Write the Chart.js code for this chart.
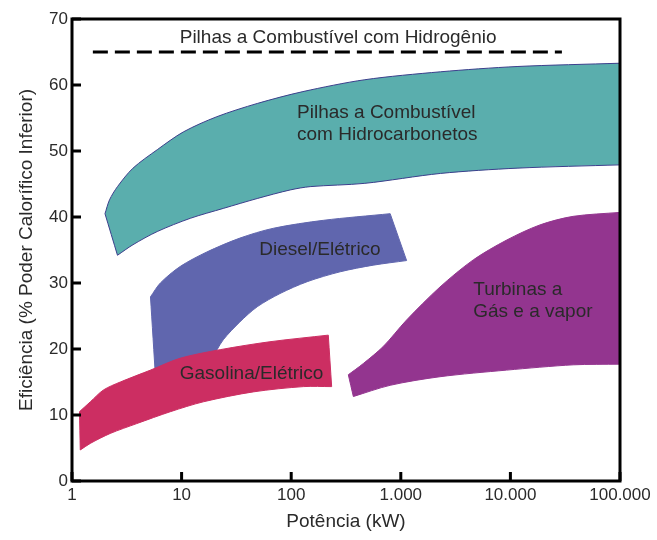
<!DOCTYPE html>
<html>
<head>
<meta charset="utf-8">
<script src="https://cdn.jsdelivr.net/npm/chart.js@4"></script>
<style>
  html, body { margin: 0; padding: 0; background: #fff; }
  canvas { display: block; }
</style>
</head>
<body>
<canvas id="chart" width="657" height="540"></canvas>
<script>
// upper and lower edges of each region (x = kW, y = %)
const hidroTopX = [2.0, 2.2, 2.6, 3.6, 6.0, 10.4, 21, 49, 128, 470, 2300, 11500, 100000];
const hidroTopY = [40.5, 42.6, 44.6, 47.4, 50.2, 52.9, 55.2, 57.2, 59.0, 60.8, 62.0, 62.8, 63.3];
const hidroBotX = [2.6, 3.6, 6.0, 12, 24, 49, 98, 149, 470, 2300, 11500, 100000];
const hidroBotY = [34.2, 35.8, 37.8, 39.8, 41.3, 42.8, 44.1, 44.6, 45.1, 46.6, 47.4, 47.9];

const dieselTopX = [5.2, 6.4, 9.7, 17, 34, 69, 197, 800];
const dieselTopY = [27.9, 30.0, 32.5, 34.7, 36.8, 38.3, 39.5, 40.5];
const dieselBotX = [5.8, 9.7, 18, 24, 34, 49, 79, 140, 280, 560, 1130];
const dieselBotY = [15.3, 15.3, 18.3, 21.4, 24.1, 26.4, 28.4, 30.2, 31.7, 32.7, 33.4];

const gasolinaTopX = [1.17, 1.47, 1.94, 2.76, 5.2, 9.7, 22.5, 64, 218];
const gasolinaTopY = [10.5, 12.0, 13.8, 15.0, 16.8, 18.6, 19.9, 21.1, 22.1];
const gasolinaBotX = [1.19, 1.47, 2.23, 3.9, 7.9, 15.8, 45, 129, 234];
const gasolinaBotY = [4.7, 5.7, 7.2, 8.7, 10.5, 12.0, 13.5, 14.3, 14.3];

const turbinaTopX = [332, 455, 693, 1130, 2280, 4580, 9230, 18600, 37400, 100000];
const turbinaTopY = [16.1, 17.8, 20.4, 24.4, 29.4, 33.5, 36.5, 38.8, 40.1, 40.7];
const turbinaBotX = [369, 800, 2280, 9230, 37400, 100000];
const turbinaBotY = [12.8, 14.5, 15.8, 16.8, 17.6, 17.7];

// hydrogen fuel cell line
const hidrogenioX = [1.55, 29500];
const hidrogenioY = [65, 65];

const xTickValues = [1, 10, 100, 1000, 10000, 100000];
const xTickLabels = ["1", "10", "100", "1.000", "10.000", "100.000"];

// text placed on the chart: [lines, x, y, align]
const regionLabels = [
  [["Pilhas a Combustível com Hidrogênio"], 268, 67.1, "center"],
  [["Pilhas a Combustível", "com Hidrocarbonetos"], 113, 55.8, "left"],
  [["Diesel/Elétrico"], 183, 35.0, "center"],
  [["Gasolina/Elétrico"], 43.5, 16.2, "center"],
  [["Turbinas a", "Gás e a vapor"], 4580, 29.0, "left"]
];

// closed outline: upper edge left->right, lower edge right->left.
// corner points are doubled so the spline keeps them sharp
function region(tx, ty, bx, by) {
  const top = tx.map((x, i) => ({ x: x, y: ty[i] }));
  const bot = bx.map((x, i) => ({ x: x, y: by[i] })).reverse();
  return [top[0]].concat(top, [top[top.length - 1]], [bot[0]], bot, [bot[bot.length - 1]], [top[0]]);
}

Chart.defaults.font.family = "'Liberation Sans', Arial, sans-serif";
Chart.defaults.color = "#2a2a2a";

// black frame, inward ticks and the region texts
const decor = {
  id: "decor",
  afterDraw(chart) {
    const ctx = chart.ctx;
    const a = chart.chartArea;
    const xs = chart.scales.x, ys = chart.scales.y;

    ctx.save();
    ctx.font = "19px 'Liberation Sans', Arial, sans-serif";
    ctx.fillStyle = "#2a2a2a";
    ctx.textBaseline = "middle";
    regionLabels.forEach(l => {
      ctx.textAlign = l[3];
      const px = xs.getPixelForValue(l[1]);
      const py = ys.getPixelForValue(l[2]);
      l[0].forEach((t, i) => ctx.fillText(t, px, py + i * 22));
    });

    ctx.strokeStyle = "#000";
    ctx.lineWidth = 3;
    ctx.strokeRect(a.left, a.top, a.right - a.left, a.bottom - a.top);
    ctx.beginPath();
    xs.ticks.forEach(t => {
      const p = xs.getPixelForValue(t.value);
      ctx.moveTo(p, a.bottom);
      ctx.lineTo(p, a.bottom - 9);
    });
    ys.ticks.forEach(t => {
      const p = ys.getPixelForValue(t.value);
      ctx.moveTo(a.left, p);
      ctx.lineTo(a.left + 9, p);
    });
    ctx.stroke();
    ctx.restore();
  }
};

function area(points, fillColor, lineColor) {
  return {
    data: points,
    showLine: true, fill: "shape",
    backgroundColor: fillColor, borderColor: lineColor, borderWidth: 1,
    pointRadius: 0, tension: 0.3
  };
}

new Chart(document.getElementById("chart"), {
  type: "scatter",
  data: {
    datasets: [
      area(region(hidroTopX, hidroTopY, hidroBotX, hidroBotY), "#5aaead", "#3c3f8c"),
      area(region(gasolinaTopX, gasolinaTopY, gasolinaBotX, gasolinaBotY), "#cc2e62", "#cc2e62"),
      area(region(dieselTopX, dieselTopY, dieselBotX, dieselBotY), "#6066ae", "#6066ae"),
      area(region(turbinaTopX, turbinaTopY, turbinaBotX, turbinaBotY), "#93358f", "#93358f"),
      {
        data: hidrogenioX.map((x, i) => ({ x: x, y: hidrogenioY[i] })),
        showLine: true, fill: false,
        borderColor: "#000", borderWidth: 3, borderDash: [15, 7],
        pointRadius: 0
      }
    ]
  },
  options: {
    responsive: false,
    animation: false,
    devicePixelRatio: 1,
    layout: { padding: { top: 19, right: 37, bottom: 0, left: 0 } },
    plugins: { legend: { display: false }, tooltip: { enabled: false } },
    scales: {
      x: {
        type: "logarithmic",
        min: 1, max: 100000,
        afterBuildTicks: s => { s.ticks = xTickValues.map(v => ({ value: v })); },
        afterFit: s => { s.height = 59; },
        ticks: {
          autoSkip: false, maxRotation: 0, padding: 4,
          font: { size: 17 },
          callback: (v, i) => xTickLabels[i]
        },
        grid: { display: false, drawTicks: false },
        border: { display: false },
        title: { display: true, text: "Potência (kW)", font: { size: 19 }, padding: { top: 0, bottom: 7 } }
      },
      y: {
        min: 0, max: 70,
        afterFit: s => { s.width = 72; },
        ticks: { stepSize: 10, padding: 4, font: { size: 17 } },
        grid: { display: false, drawTicks: false },
        border: { display: false },
        title: { display: true, text: "Eficiência (% Poder Calorífico Inferior)", font: { size: 19 }, padding: { top: 15, bottom: 0 } }
      }
    }
  },
  plugins: [decor]
});
</script>
</body>
</html>
